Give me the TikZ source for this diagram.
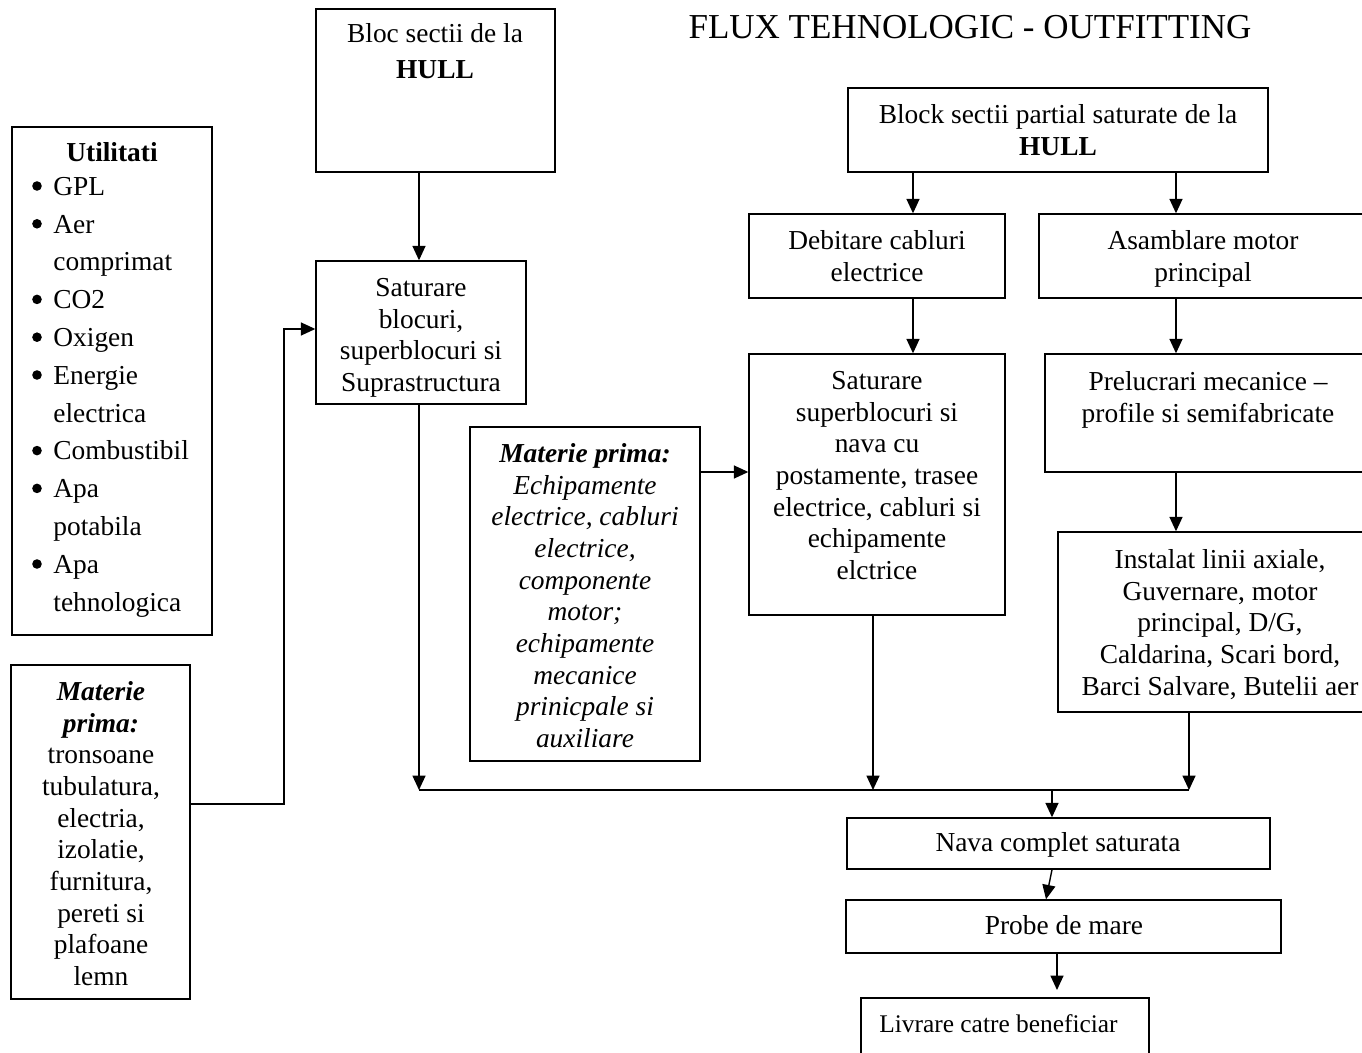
\documentclass[tikz,border=0pt]{standalone}
\usepackage{fontspec}
\setmainfont{Liberation Serif}
\usetikzlibrary{arrows.meta,fit}
\newcommand{\bodyfont}{\fontsize{13.7pt}{15.85pt}\selectfont}
\newcommand{\listfont}{\fontsize{13.7pt}{18.9pt}\selectfont}
\begin{document}
\begin{tikzpicture}[x=0.5pt,y=-0.5pt,
  box/.style={draw, line width=0.7pt, inner sep=0pt, rectangle},
  txt/.style={inner sep=0pt, align=center, anchor=north, font=\bodyfont},
  lbl/.style={inner sep=0pt, anchor=base, font=\bodyfont},
  wire/.style={line width=0.7pt},
  arr/.style={line width=0.7pt, -{Triangle[length=7.2pt,width=6.5pt]}}]
\useasboundingbox (0,0) rectangle (1362,1053);
\fill[white] (0,0) rectangle (1362,1053);

% frames
\node[box, fit={(316,9)(555,172)}] (hull) {};
\node[box, fit={(12,127)(212,635)}] (util) {};
\node[box, fit={(11,665)(190,999)}] (mp1) {};
\node[box, fit={(316,261)(526,404)}] (sat) {};
\node[box, fit={(470,427)(700,761)}] (mp2) {};
\node[box, fit={(848,88)(1268,172)}] (bps) {};
\node[box, fit={(749,214)(1005,298)}] (deb) {};
\node[box, fit={(1039,214)(1365,298)}] (asm) {};
\node[box, fit={(749,354)(1005,615)}] (ssb) {};
\node[box, fit={(1045,354)(1371,472)}] (prel) {};
\node[box, fit={(1058,532)(1382,712)}] (inst) {};
\node[box, fit={(847,818)(1270,869)}] (nava) {};
\node[box, fit={(846,900)(1281,953)}] (probe) {};
\node[box, fit={(861,998)(1149,1062)}] (livr) {};

% texts
\node[lbl] (title) at (970,39) {\fontsize{17.5pt}{20pt}\selectfont FLUX TEHNOLOGIC - OUTFITTING};
\node[lbl] (hullt1) at (435,43) {Bloc sectii de la};
\node[lbl] (hullt2) at (435,79) {\textbf{HULL}};
\node[lbl] (utilt) at (112,162) {\textbf{Utilitati}};
\node[inner sep=0pt, anchor=north west, align=left, font=\listfont] (utill) at (53,168.5)
  {\strut GPL\\Aer\\comprimat\\CO2\\Oxigen\\Energie\\electrica\\Combustibil\\Apa\\potabila\\Apa\\tehnologica};
% list bullets
\foreach \k in {0,1,3,4,5,7,8,10}
  \fill (37,186+37.8*\k) circle[radius=4.8];
\node[txt] (mp1t) at (101,677.8)
  {\strut\textbf{\textit{Materie}}\\\textbf{\textit{prima:}}\\tronsoane\\tubulatura,\\electria,\\izolatie,\\furnitura,\\pereti si\\plafoane\\lemn};
\node[txt] (satt) at (421,273.8) {\strut Saturare\\blocuri,\\superblocuri si\\Suprastructura};
\node[txt, font=\bodyfont\itshape] (mp2t) at (585,439.8)
  {\strut\textbf{Materie prima:}\\Echipamente\\electrice, cabluri\\electrice,\\componente\\motor;\\echipamente\\mecanice\\prinicpale si\\auxiliare};
\node[txt] (bpst) at (1058,100.8) {\strut Block sectii partial saturate de la\\\textbf{HULL}};
\node[txt] (debt) at (877,226.8) {\strut Debitare cabluri\\electrice};
\node[txt] (asmt) at (1203,226.8) {\strut Asamblare motor\\principal};
\node[txt] (ssbt) at (877,366.8)
  {\strut Saturare\\superblocuri si\\nava cu\\postamente, trasee\\electrice, cabluri si\\echipamente\\elctrice};
\node[txt] (prelt) at (1208,367.8) {\strut Prelucrari mecanice –\\profile si semifabricate};
\node[txt] (instt) at (1220,545.8)
  {\strut Instalat linii axiale,\\Guvernare, motor\\principal, D/G,\\Caldarina, Scari bord,\\Barci Salvare, Butelii aer};
\node[lbl] (navat) at (1058,852) {Nava complet saturata};
\node[lbl] (probet) at (1064,935) {Probe de mare};
\node[lbl, font=\fontsize{12.7pt}{15pt}\selectfont] (livrt) at (998.5,1032) {Livrare catre beneficiar};

% routing points
\coordinate (xA) at (419,0);
\coordinate (kB1) at (284,804);
\coordinate (kB2) at (284,329);
\coordinate (jL) at (419,790);
\coordinate (jM) at (873,790);
\coordinate (jN) at (1052,790);
\coordinate (jR) at (1189,790);
\coordinate (xD) at (913,0);
\coordinate (xE) at (1176,0);
\coordinate (yF) at (0,472);
\coordinate (nv1) at (1052,0);
\coordinate (nv2) at (1046,0);
\coordinate (lv) at (1057,990);

% connectors
\draw[arr] (hull.south -| xA) -- (sat.north -| xA);
\draw[arr] (mp1.east |- kB1) -- (kB1) -- (kB2) -- (sat.west |- kB2);
\draw[arr] (sat.south -| jL) -- (jL);
\draw[wire] (jL) -- (jR);
\draw[arr] (ssb.south -| jM) -- (jM);
\draw[arr] (inst.south -| jR) -- (jR);
\draw[arr] (jN) -- (nava.north -| jN);
\draw[arr] (nava.south -| nv1) -- (probe.north -| nv2);
\draw[arr] (probe.south -| lv) -- (lv);
\draw[arr] (bps.south -| xD) -- (deb.north -| xD);
\draw[arr] (bps.south -| xE) -- (asm.north -| xE);
\draw[arr] (deb.south -| xD) -- (ssb.north -| xD);
\draw[arr] (asm.south -| xE) -- (prel.north -| xE);
\draw[arr] (prel.south -| xE) -- (inst.north -| xE);
\draw[arr] (mp2.east |- yF) -- (ssb.west |- yF);
\end{tikzpicture}
\end{document}
